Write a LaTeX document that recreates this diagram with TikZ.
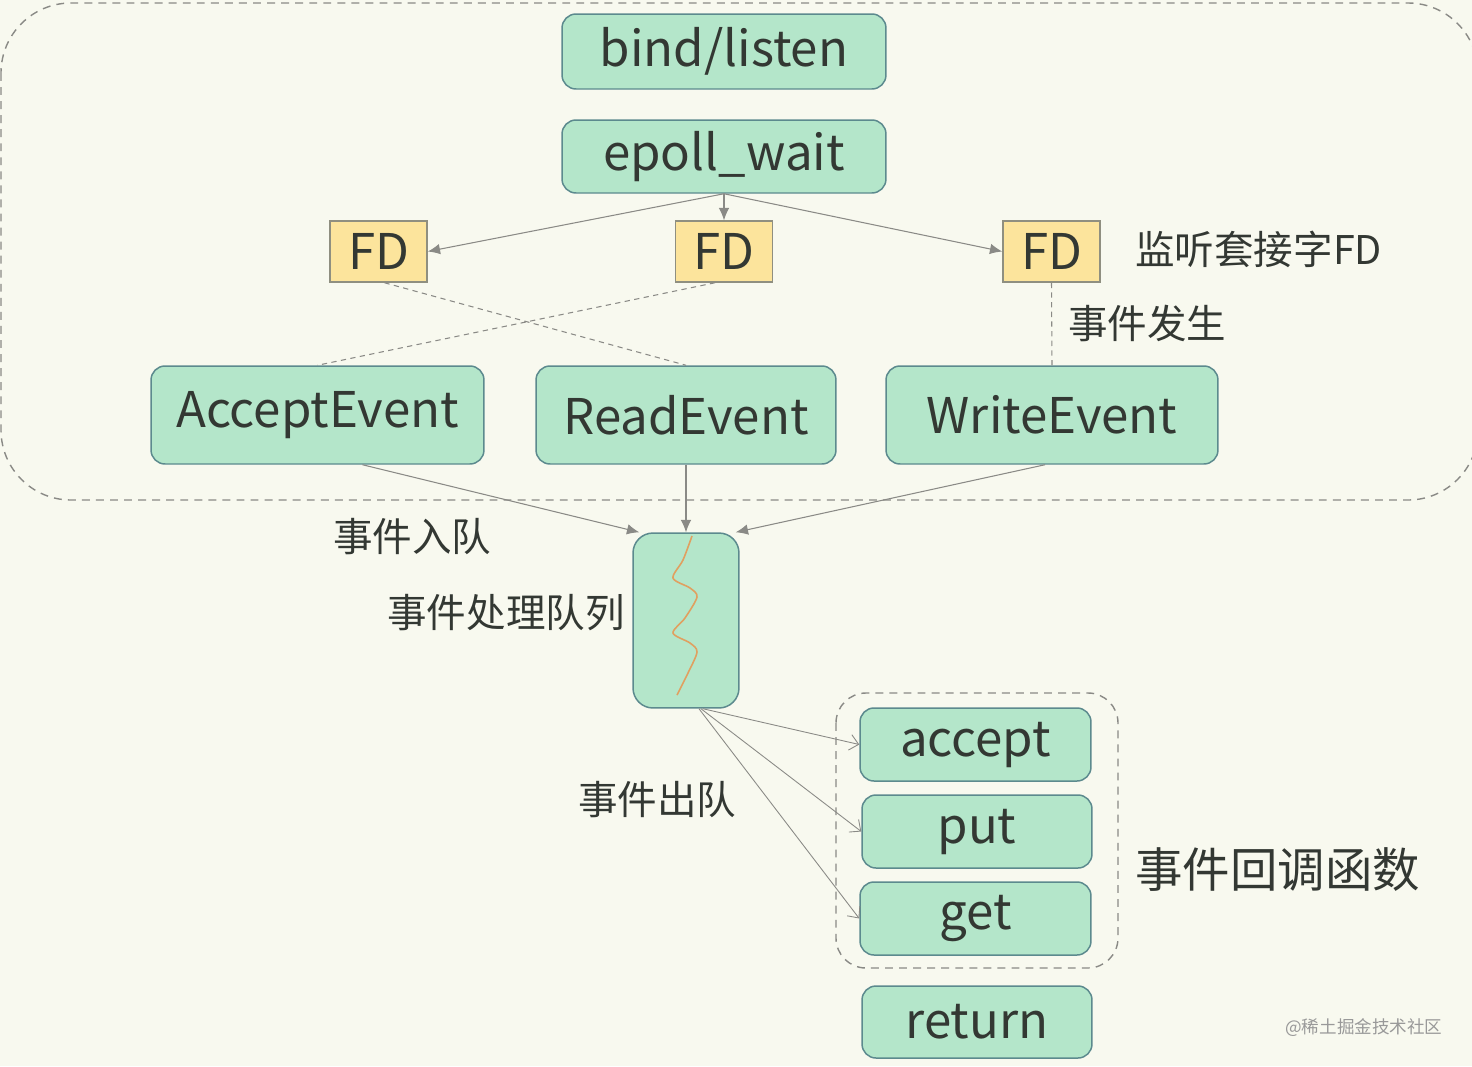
\documentclass[tikz,border=0pt]{standalone}
\usepackage{fontspec}
\setmainfont{Noto Sans CJK SC}
\usetikzlibrary{arrows.meta}
\definecolor{bgcol}{HTML}{F8F9EF}
\definecolor{boxfill}{HTML}{B4E6CA}
\definecolor{boxline}{HTML}{5C8A8E}
\definecolor{fdfill}{HTML}{FCE49C}
\definecolor{fdline}{HTML}{8F8F80}
\definecolor{textcol}{HTML}{333833}
\definecolor{arrcol}{HTML}{8A8A86}
\definecolor{wavecol}{HTML}{E0A060}
\tikzset{greenbox/.style={draw=boxline, fill=boxfill, line width=0.85pt,
  rounded corners=0.28cm, text=textcol, inner sep=0pt,
  font=\fontsize{28}{34}\selectfont}}
\tikzset{fdbox/.style={draw=fdline, fill=fdfill, line width=0.85pt,
  text=textcol, inner sep=0pt, minimum width=1.94cm, minimum height=1.22cm,
  font=\fontsize{28}{34}\selectfont}}
\tikzset{lbl/.style={text=textcol, inner sep=0pt, font=\fontsize{22.5}{27}\selectfont}}
\tikzset{arr/.style={draw=arrcol, line width=0.6pt, -{Latex[length=7pt,width=6pt]}}}
\tikzset{openarr/.style={draw=arrcol, line width=0.5pt, -{Straight Barb[length=5pt,width=9pt]}}}
\tikzset{fdlink/.style={draw=arrcol, line width=0.6pt, dash pattern=on 3pt off 2.5pt}}
\tikzset{groupbox/.style={draw=arrcol, line width=0.8pt, dash pattern=on 4.5pt off 3.5pt}}

\begin{document}
\begin{tikzpicture}[x=0.02cm, y=-0.02cm]
      \useasboundingbox (0, 0) rectangle (1472, 1066);
      \fill [bgcol] (0, 0) rectangle (1472, 1066);

      % dashed groups
      \draw [groupbox, rounded corners=1.4cm] (1, 3) rectangle (1478, 500);
      \draw [groupbox, rounded corners=0.6cm] (836, 693) rectangle (1118, 968);

      % boxes at the top
      \node [greenbox, minimum width=6.48cm, minimum height=1.5cm] (bind) at (724, 51.5) {bind/listen};
      \node [greenbox, minimum width=6.48cm, minimum height=1.46cm] (epoll) at (724, 156.5) {epoll\_wait};

      \node [fdbox] (fdA) at (378.5, 251.5) {FD};
      \node [fdbox] (fdB) at (724, 251.5) {FD};
      \node [fdbox] (fdC) at (1051.5, 251.5) {FD};

      \node [greenbox, minimum width=6.66cm, minimum height=1.96cm] (accEv) at (317.5, 415) {AcceptEvent};
      \node [greenbox, minimum width=6.0cm, minimum height=1.96cm] (readEv) at (686, 415) {ReadEvent};
      \node [greenbox, minimum width=6.64cm, minimum height=1.96cm] (writeEv) at (1052, 415) {WriteEvent};

      % queue
      \node [greenbox, rounded corners=0.4cm, minimum width=2.12cm, minimum height=3.5cm] (queue) at (686, 620.5) {};
      \draw [wavecol, line width=0.9pt] plot [smooth, tension=0.5] coordinates {(692, 536) (683, 560) (673, 578) (690, 588) (697, 597) (685, 618) (673, 633) (690, 643) (697, 652) (688, 673) (677, 695)};

      % callbacks
      \node [greenbox, minimum width=4.62cm, minimum height=1.46cm] (accept) at (975.5, 744.5) {accept};
      \node [greenbox, minimum width=4.6cm, minimum height=1.46cm] (put) at (977, 831.5) {put};
      \node [greenbox, minimum width=4.62cm, minimum height=1.46cm] (get) at (975.5, 918.5) {get};
      \node [greenbox, minimum width=4.6cm, minimum height=1.44cm] (ret) at (977, 1022) {return};

      % connectors
      \draw [arr] (epoll.south) -- (fdA.east);
      \draw [arr] (epoll.south) -- (fdB.north);
      \draw [arr] (epoll.south) -- (fdC.west);

      \draw [fdlink] ([xshift=0.12cm]fdA.south) -- (readEv.north);
      \draw [fdlink] ([xshift=-0.18cm]fdB.south) -- (accEv.north);
      \draw [fdlink] (fdC.south) -- (writeEv.north);

      \draw [arr] ([xshift=0.9cm]accEv.south) -- ([xshift=0.14cm]queue.north west);
      \draw [arr] (readEv.south) -- (queue.north);
      \draw [arr] ([xshift=-0.14cm]writeEv.south) -- ([xshift=-0.08cm]queue.north east);

      \draw [openarr] ([xshift=0.34cm]queue.south) -- (accept.west);
      \draw [openarr] ([xshift=0.3cm]queue.south) -- (put.west);
      \draw [openarr] ([xshift=0.26cm]queue.south) -- (get.west);

      % labels
      \node [lbl, anchor=west] (lblFd) at (1135, 249) {监听套接字FD};
      \node [lbl, anchor=west] (lblHappen) at (1068, 323) {事件发生};
      \node [lbl, anchor=west] (lblIn) at (333, 537) {事件入队};
      \node [lbl, anchor=east] (lblQueue) at (625, 613) {事件处理队列};
      \node [lbl, anchor=west] (lblOut) at (578, 800) {事件出队};
      \node [lbl, anchor=west, font=\fontsize{27}{32}\selectfont] (lblCb) at (1135, 870) {事件回调函数};
      \node [lbl, anchor=west, text=black!40, font=\fontsize{10}{12}\selectfont] (mark) at (1285, 1028) {@稀土掘金技术社区};
\end{tikzpicture}
\end{document}
